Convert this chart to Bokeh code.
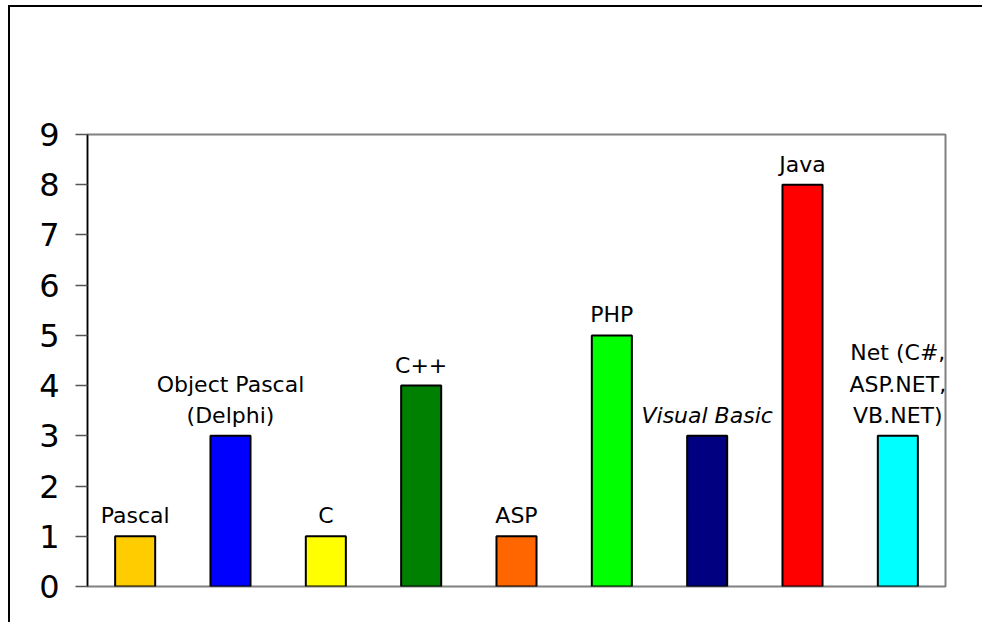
from bokeh.plotting import figure
from bokeh.models import ColumnDataSource, FactorRange, FixedTicker
from bokeh.core.properties import value
from bokeh.embed import file_html
from bokeh.resources import INLINE

languages = ["Pascal", "Object Pascal (Delphi)", "C", "C++", "ASP", "PHP",
             "Visual Basic", "Java", "Net (C#, ASP.NET, VB.NET)"]
label_lines = ["Pascal", "Object Pascal\n(Delphi)", "C", "C++", "ASP", "PHP",
               "Visual Basic", "Java", "Net (C#,\nASP.NET,\nVB.NET)"]
label_styles = ["normal", "normal", "normal", "normal", "normal", "normal",
                "italic", "normal", "normal"]
counts = [1, 3, 1, 4, 1, 5, 3, 8, 3]
colors = ["#FFCC00", "#0000FF", "#FFFF00", "#008000", "#FF6600", "#00FF00",
          "#000080", "#FF0000", "#00FFFF"]
y_ticks = [0, 1, 2, 3, 4, 5, 6, 7, 8, 9]

src = ColumnDataSource(dict(x=languages, top=counts, color=colors,
                            label=label_lines, fstyle=label_styles))

p = figure(width=974, height=617, output_backend="svg", toolbar_location=None,
           x_range=FactorRange(*languages, range_padding=0), y_range=(0, 9),
           min_border_left=77, min_border_top=127, min_border_right=39, min_border_bottom=38,
           background_fill_color="white", border_fill_color="white")
p.styles = {"margin-left": "8px", "margin-top": "5px",
            "border-left": "2px solid black", "border-top": "2px solid black"}

p.vbar(x="x", top="top", width=0.42, source=src, fill_color="color",
       line_color="black", line_width=2)
p.text(x="x", y="top", text="label", source=src, text_align="center",
       text_baseline="bottom", y_offset=-8, text_font=value("DejaVu Sans"),
       text_font_size="22px", text_font_style="fstyle", text_color="black",
       text_line_height=1.25)

p.xgrid.visible = False
p.ygrid.visible = False
p.xaxis.visible = False
p.outline_line_color = "#808080"
p.outline_line_width = 2

ax = p.yaxis[0]
ax.ticker = FixedTicker(ticks=y_ticks)
ax.axis_line_color = "black"
ax.axis_line_width = 1.5
ax.major_tick_in = 0
ax.major_tick_out = 12
ax.major_tick_line_color = "#555555"
ax.major_tick_line_width = 1.5
ax.minor_tick_line_color = None
ax.major_label_text_font = "DejaVu Sans"
ax.major_label_text_font_size = "32px"
ax.major_label_text_color = "black"
ax.major_label_standoff = 16

open("out.html", "w").write(file_html(p, INLINE))
